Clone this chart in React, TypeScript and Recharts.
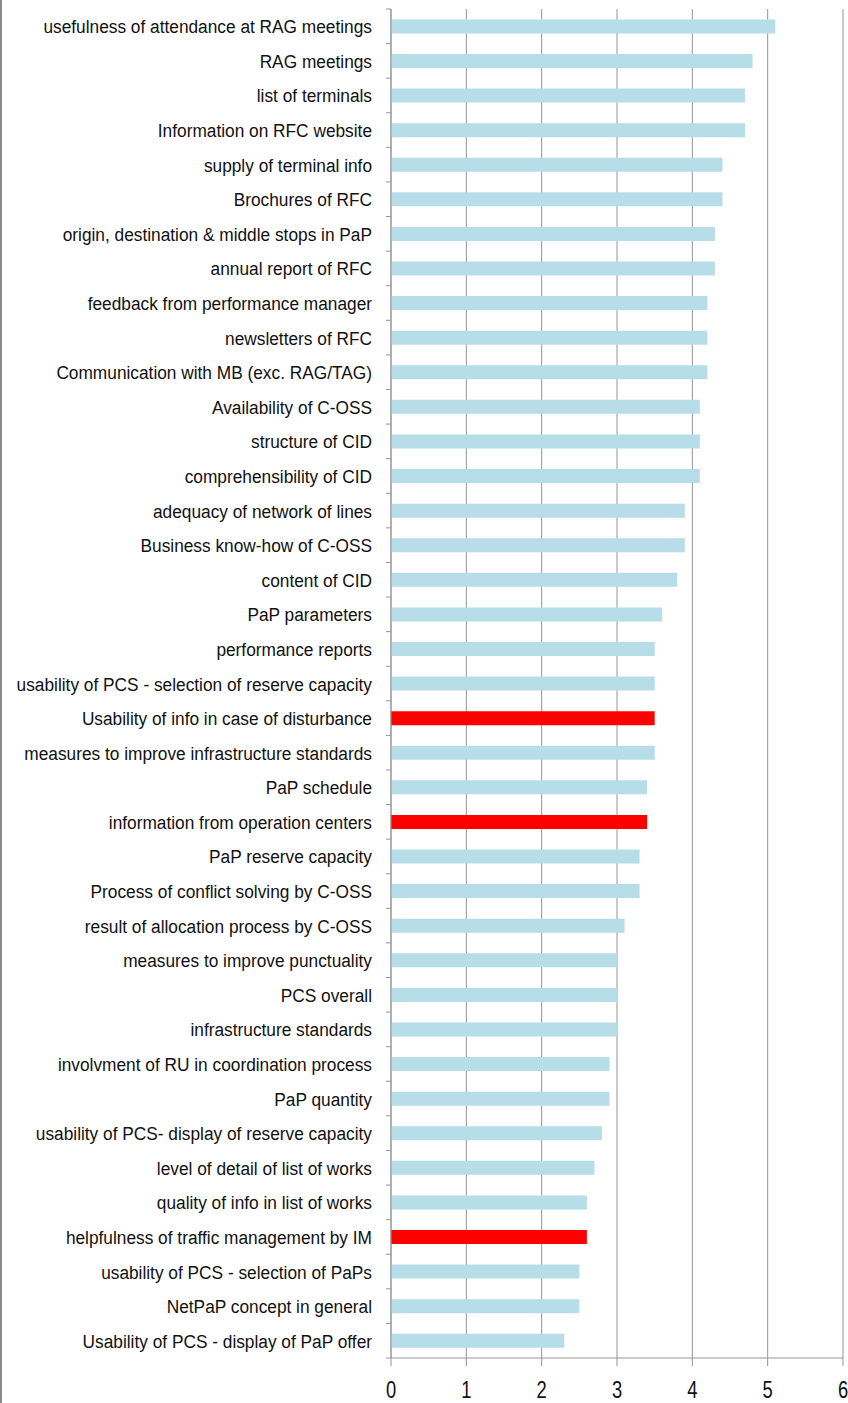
import React from "react";
import { BarChart, Bar, XAxis, YAxis, CartesianGrid, Cell } from "recharts";

const categories = [
  "usefulness of attendance at RAG meetings",
  "RAG meetings",
  "list of terminals",
  "Information on RFC website",
  "supply of terminal info",
  "Brochures of RFC",
  "origin, destination & middle stops in PaP",
  "annual report of RFC",
  "feedback from performance manager",
  "newsletters of RFC",
  "Communication with MB (exc. RAG/TAG)",
  "Availability of C-OSS",
  "structure of CID",
  "comprehensibility of CID",
  "adequacy of network of lines",
  "Business know-how of C-OSS",
  "content of CID",
  "PaP parameters",
  "performance reports",
  "usability of PCS - selection of reserve capacity",
  "Usability of info in case of disturbance",
  "measures to improve infrastructure standards",
  "PaP schedule",
  "information from operation centers",
  "PaP reserve capacity",
  "Process of conflict solving by C-OSS",
  "result of allocation process by C-OSS",
  "measures to improve punctuality",
  "PCS overall",
  "infrastructure standards",
  "involvment of RU in coordination process",
  "PaP quantity",
  "usability of PCS- display of reserve capacity",
  "level of detail of list of works",
  "quality of info in list of works",
  "helpfulness of traffic management by IM",
  "usability of PCS - selection of PaPs",
  "NetPaP concept in general",
  "Usability of PCS - display of PaP offer",
];

const scores = [
  5.1, 4.8, 4.7, 4.7, 4.4, 4.4, 4.3, 4.3, 4.2, 4.2, 4.2, 4.1, 4.1, 4.1, 3.9,
  3.9, 3.8, 3.6, 3.5, 3.5, 3.5, 3.5, 3.4, 3.4, 3.3, 3.3, 3.1, 3.0, 3.0, 3.0,
  2.9, 2.9, 2.8, 2.7, 2.6, 2.6, 2.5, 2.5, 2.3,
];

const highlightedCategories = [
  "Usability of info in case of disturbance",
  "information from operation centers",
  "helpfulness of traffic management by IM",
];

const xTicks = [0, 1, 2, 3, 4, 5, 6];

const data = categories.map((name, i) => ({
  name,
  score: scores[i],
  highlight: highlightedCategories.includes(name),
}));

const FONT = "'Liberation Sans', Arial, sans-serif";
const GRAY = "#959595";
const BLUE = "#B7DDE8";
const RED = "#FF0000";

function YTick(props: any) {
  const { x, y, payload, index } = props;
  const half = payload && payload.offset ? payload.offset : 17.3;
  const last = index === categories.length - 1;
  return (
    <g>
      <line x1={x - 5} x2={x} y1={y - half} y2={y - half} stroke={GRAY} strokeWidth={1} />
      {last && <line x1={x - 5} x2={x} y1={y + half} y2={y + half} stroke={GRAY} strokeWidth={1} />}
      <text
        transform={`translate(${x - 19},${y + 7}) scale(0.91,1)`}
        textAnchor="end"
        fontFamily={FONT}
        fontSize={19}
        fill="#111"
      >
        {payload.value}
      </text>
    </g>
  );
}

function XTick(props: any) {
  const { x, y, payload } = props;
  return (
    <text
      transform={`translate(${x},${y + 31.5}) scale(0.8,1)`}
      textAnchor="middle"
      fontFamily={FONT}
      fontSize={23}
      fill="#111"
    >
      {payload.value}
    </text>
  );
}

export default function App() {
  return (
    <div style={{ position: "absolute", left: 0, top: 0, width: 848, height: 1403, background: "#fff" }}>
      <div style={{ position: "absolute", left: 0, top: 0, width: 2, height: 1403, background: "#8a8a8a" }} />
      <BarChart
        width={848}
        height={1403}
        data={data}
        layout="vertical"
        margin={{ top: 9, right: 5, bottom: 0, left: 0 }}
        barCategoryGap="30%"
      >
        <CartesianGrid horizontal={false} vertical={true} stroke={GRAY} strokeWidth={1} />
        <XAxis
          type="number"
          dataKey="score"
          domain={[0, 6]}
          ticks={xTicks}
          interval={0}
          height={45}
          axisLine={{ stroke: GRAY }}
          tickLine={{ stroke: GRAY }}
          tickSize={8}
          tickMargin={0}
          tick={<XTick />}
        />
        <YAxis
          type="category"
          dataKey="name"
          width={391}
          interval={0}
          axisLine={{ stroke: GRAY }}
          tickLine={false}
          tickSize={0}
          tickMargin={0}
          tick={<YTick />}
        />
        <Bar dataKey="score" isAnimationActive={false}>
          {data.map((d, i) => (
            <Cell key={i} fill={d.highlight ? RED : BLUE} />
          ))}
        </Bar>
      </BarChart>
    </div>
  );
}
